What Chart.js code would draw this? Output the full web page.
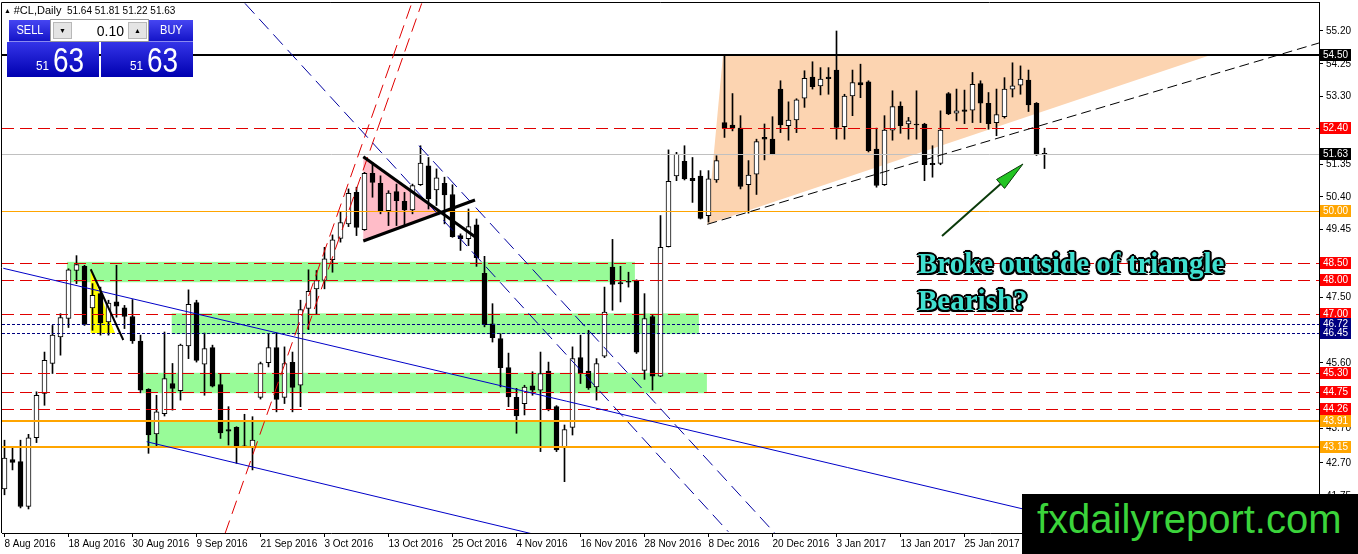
<!DOCTYPE html>
<html>
<head>
<meta charset="utf-8">
<title>#CL Daily</title>
<script src="https://cdn.jsdelivr.net/npm/chart.js@4.4.1/dist/chart.umd.min.js"></script>
<style>
html, body { margin: 0; padding: 0; background: #fff; }
#wrap { position: relative; width: 1358px; height: 554px; overflow: hidden; font-family: "Liberation Sans", Arial, sans-serif; }
#c { position: absolute; left: 0; top: 0; }
#hdr { position: absolute; left: 4px; top: 4px; font-size: 10px; color: #000; white-space: nowrap; line-height: 12px; }
#hdr .tri { font-size: 7px; vertical-align: 1px; }
#hdr .sym { font-size: 11px; }
.btn { position: absolute; color: #fff; font-size: 13px; text-align: center; line-height: 20px;
       background: linear-gradient(#4646f2, #1414c8); border-bottom: 1px solid #8a8af0; box-sizing: border-box; }
.btn span { display: inline-block; transform: scaleX(.85); }
.lot { position: absolute; background: #fff; border: 1px solid #9a9a9a; box-sizing: border-box; }
.lot .arr { position: absolute; top: 2px; width: 19px; height: 17px; background: #e4e4e4; border: 1px solid #b8b8b8;
            box-sizing: border-box; font-size: 7px; line-height: 15px; text-align: center; color: #000; }
.lot .val { position: absolute; right: 24px; top: 2px; font-size: 14px; line-height: 18px; color: #000; }
.px { position: absolute; background: linear-gradient(#3434e8, #0000b0); color: #fff; }
.px .s { position: absolute; left: 29px; top: 17px; font-size: 13px; line-height: 14px; display: inline-block; transform: scaleX(.9); transform-origin: left; }
.px .b { position: absolute; left: 46px; top: 0px; font-size: 35px; line-height: 36px; display: inline-block; transform: scaleX(.8); transform-origin: left; }
#note { position: absolute; left: 918px; top: 245px; font-family: "Liberation Serif", "Times New Roman", serif; font-weight: bold;
        font-size: 29px; line-height: 37px; color: #40e0d0; white-space: nowrap;
        text-shadow: -2px 0 #000, 2px 0 #000, 0 -2px #000, 0 2px #000, -1.5px -1.5px #000, 1.5px 1.5px #000, -1.5px 1.5px #000, 1.5px -1.5px #000, 0 0 3px #000; }
#brand { position: absolute; left: 1022px; top: 494px; width: 336px; height: 60px; background: #000; }
#brand span { position: absolute; left: 15px; top: 5px; font-size: 40px; line-height: 40px; color: #3bd43b; white-space: nowrap; }
</style>
</head>
<body>
<div id="wrap">
  <canvas id="c" width="1358" height="554"></canvas>
  <div id="hdr"><span class="tri">&#9650;</span> <span class="sym">#CL,Daily</span>&nbsp; 51.64 51.81 51.22 51.63</div>
  <div class="btn" style="left:9px;top:20px;width:41px;height:22px"><span>SELL</span></div>
  <div class="lot" style="left:50px;top:19px;width:99px;height:23px">
    <div class="arr" style="left:2px">&#9660;</div>
    <div class="val">0.10</div>
    <div class="arr" style="left:77px">&#9650;</div>
  </div>
  <div class="btn" style="left:149px;top:20px;width:44px;height:22px"><span>BUY</span></div>
  <div class="px" style="left:7px;top:42px;width:92px;height:35px"><span class="s">51</span><span class="b">63</span></div>
  <div class="px" style="left:101px;top:42px;width:92px;height:35px"><span class="s">51</span><span class="b">63</span></div>
  <div id="note">Broke outside of triangle<br>Bearish?</div>
  <div id="brand"><span>fxdailyreport.com</span></div>
</div>
<script>
// Daily candles, one per trading day from 8 Aug 2016
const opens = [
    41.95, 42.80, 42.74, 41.44, 43.43, 44.71, 45.58, 46.35, 46.88, 48.27,
    48.39, 47.19, 47.60, 46.78, 47.36, 47.19, 46.94, 46.23, 44.83, 43.54,
    44.13, 45.00, 44.79, 46.09, 47.34, 45.56, 46.04, 44.97, 43.67, 43.73,
    43.19, 43.17, 44.60, 45.60, 46.04, 44.60, 45.61, 44.95, 47.17, 47.74,
    47.98, 48.58, 49.20, 49.62, 50.53, 49.45, 51.08, 50.79, 50.00, 50.55,
    50.27, 50.02, 50.75, 51.30, 50.60, 50.79, 50.47, 49.28, 49.19, 49.59,
    48.19, 46.73, 46.30, 45.46, 44.60, 44.42, 44.93, 44.81, 45.36, 44.33,
    43.17, 43.73, 45.75, 45.36, 44.90, 45.79, 48.37, 47.92, 47.95, 47.98,
    45.38, 46.94, 45.21, 48.96, 51.01, 51.43, 50.94, 51.00, 49.86, 50.89,
    52.55, 52.48, 52.39, 50.75, 51.06, 52.12, 52.07, 53.52, 52.46, 52.63,
    53.26, 53.87, 53.61, 53.87, 54.07, 52.43, 53.32, 53.71, 53.73, 51.78,
    50.75, 52.33, 53.03, 52.51, 52.50, 52.51, 51.37, 51.37, 53.39, 52.82,
    52.92, 52.91, 53.68, 53.11, 52.55, 52.72, 53.52, 53.63, 53.78, 53.11,
    51.64
];
const highs = [
    43.36, 43.17, 43.36, 43.53, 44.76, 45.91, 46.68, 47.02, 48.32, 48.70,
    48.42, 47.89, 47.79, 47.41, 48.42, 47.26, 47.43, 46.40, 44.85, 44.66,
    46.49, 45.58, 46.14, 47.71, 47.41, 46.46, 46.11, 45.29, 44.33, 43.75,
    44.11, 44.04, 45.62, 46.44, 46.46, 46.06, 45.91, 47.41, 48.29, 48.27,
    48.94, 49.30, 49.96, 50.63, 50.68, 51.11, 51.40, 51.01, 50.58, 50.77,
    50.53, 50.77, 51.88, 51.54, 51.21, 50.97, 50.75, 49.33, 50.05, 49.76,
    48.68, 47.31, 46.44, 45.88, 44.86, 44.95, 45.34, 45.91, 45.62, 44.36,
    43.80, 46.06, 46.40, 46.54, 45.72, 47.79, 49.17, 48.39, 48.22, 48.00,
    47.60, 47.00, 49.86, 51.76, 51.69, 51.88, 51.54, 51.16, 51.16, 51.59,
    54.48, 53.39, 52.75, 51.45, 52.07, 52.51, 52.72, 53.76, 53.15, 53.24,
    54.05, 54.31, 54.14, 54.14, 55.20, 53.37, 54.07, 54.24, 53.76, 52.39,
    52.75, 53.47, 53.15, 52.70, 53.47, 52.53, 51.88, 52.89, 53.42, 53.52,
    53.49, 54.00, 53.76, 53.42, 53.52, 53.85, 54.28, 54.19, 54.07, 53.13,
    51.81
];
const lows = [
    41.78, 42.50, 41.40, 41.37, 43.29, 44.37, 45.29, 45.82, 46.62, 47.89,
    46.68, 46.54, 46.40, 46.40, 46.92, 46.59, 46.16, 44.73, 42.98, 43.17,
    44.06, 44.23, 44.52, 45.72, 45.62, 44.66, 44.90, 43.41, 43.22, 42.69,
    43.15, 42.50, 44.55, 45.48, 44.18, 44.42, 44.18, 44.33, 46.56, 47.02,
    47.74, 48.22, 49.09, 49.54, 49.28, 49.43, 50.39, 49.91, 49.57, 49.57,
    49.57, 49.91, 50.73, 50.05, 50.15, 49.62, 49.23, 48.85, 48.99, 48.39,
    46.64, 46.20, 44.90, 44.33, 43.56, 44.09, 44.66, 43.03, 44.21, 43.03,
    42.16, 43.51, 45.00, 44.83, 44.52, 45.75, 47.12, 47.36, 47.79, 45.87,
    45.12, 44.81, 45.20, 48.95, 50.87, 50.89, 50.24, 49.76, 49.67, 50.82,
    52.12, 52.31, 50.63, 49.93, 50.47, 51.47, 51.62, 52.26, 52.04, 52.26,
    52.99, 53.52, 53.35, 53.37, 52.07, 52.07, 52.75, 53.27, 51.70, 50.68,
    50.73, 52.04, 52.24, 52.07, 52.07, 50.87, 50.97, 51.33, 52.78, 52.60,
    52.52, 52.55, 52.55, 52.36, 52.17, 52.68, 53.29, 53.37, 52.87, 51.60,
    51.22
];
const closes = [
    42.84, 42.72, 41.44, 43.43, 44.66, 45.67, 46.40, 46.91, 48.29, 48.44,
    46.71, 47.55, 46.75, 47.33, 47.24, 46.94, 46.23, 44.81, 43.51, 44.18,
    45.14, 44.86, 46.11, 47.29, 45.67, 46.01, 44.92, 43.57, 43.62, 43.17,
    43.17, 43.36, 45.58, 46.04, 44.54, 45.58, 44.89, 47.14, 47.67, 47.98,
    48.61, 49.16, 49.66, 50.50, 49.52, 51.08, 50.82, 50.00, 50.51, 50.29,
    50.02, 50.73, 51.38, 50.34, 50.95, 50.46, 49.25, 49.19, 49.54, 48.64,
    46.70, 46.33, 45.46, 44.61, 44.06, 44.90, 44.81, 45.29, 44.25, 43.08,
    43.67, 45.72, 45.31, 44.87, 45.58, 47.07, 47.87, 47.88, 47.93, 45.91,
    46.88, 45.21, 48.94, 50.85, 51.64, 50.92, 50.87, 49.78, 50.92, 51.45,
    52.39, 52.39, 50.70, 51.03, 52.00, 52.07, 51.64, 52.48, 52.62, 53.21,
    53.83, 53.59, 53.81, 53.82, 52.41, 53.32, 53.71, 53.64, 51.74, 50.73,
    52.33, 53.01, 52.46, 52.60, 52.48, 51.33, 51.33, 52.33, 52.80, 52.89,
    52.87, 53.66, 53.11, 52.52, 52.78, 53.52, 53.61, 53.81, 53.06, 51.62,
    51.63
];

// Time axis labels (one every 8 bars)
const dateTicks = ['8 Aug 2016', '18 Aug 2016', '30 Aug 2016', '9 Sep 2016', '21 Sep 2016', '3 Oct 2016',
    '13 Oct 2016', '25 Oct 2016', '4 Nov 2016', '16 Nov 2016', '28 Nov 2016', '8 Dec 2016',
    '20 Dec 2016', '3 Jan 2017', '13 Jan 2017', '25 Jan 2017'];
const dateTickBars = [0, 8, 16, 24, 32, 40, 48, 56, 64, 72, 80, 88, 96, 104, 112, 120];

// Price axis labels
const priceTicks = [55.20, 54.25, 53.30, 52.35, 51.35, 50.40, 49.45, 48.50, 47.50, 46.55, 45.60, 44.65, 43.70, 42.70, 41.75];

// Horizontal levels drawn on the chart
const levelPrices = [54.50, 52.40, 51.63, 50.00, 48.50, 48.00, 47.00, 46.72, 46.45, 45.30, 44.75, 44.26, 43.91, 43.15];
const levelKinds = ['res', 'red', 'bid', 'orange', 'red', 'red', 'red', 'navy', 'navy', 'red', 'red', 'red', 'orangeB', 'orangeB'];

// Rectangles: [fromBar, toBar, topPrice, bottomPrice]
const zones = [
    [7.8, 78.8, 48.52, 47.93],
    [20.9, 86.8, 47.03, 46.43],
    [17.2, 87.8, 45.31, 44.72],
    [17.8, 68.8, 43.92, 43.14]
];

// Filled triangles: [bar, price] corners
const peachTri = [[89.81, 54.50], [150.69, 54.50], [87.85, 49.607]];
const pinkTri = [[44.85, 51.563], [44.85, 49.124], [54.44, 49.943]];
const yellowTri = [[10.775, 48.305], [10.775, 46.453], [13.81, 46.453]];

// Trend lines: [bar1, price1, bar2, price2]
const trendLines = [
    [27.56, 40.654, 50.90, 55.999],
    [37.85, 46.580, 52.15, 55.999],
    [30.06, 55.999, 90.475, 40.712],
    [51.81, 51.88, 96.31, 40.666],
    [-0.15, 48.334, 164.3, 39.35],
    [17.775, 43.316, 164.31, 35.21],
    [87.85, 49.607, 164.31, 54.853],
    [10.775, 48.305, 14.85, 46.259],
    [44.85, 51.563, 58.81, 49.248],
    [44.85, 49.124, 58.81, 50.310]
];
const trendKinds = ['redDash', 'redDash', 'blueDash', 'blueDash', 'blue', 'blue', 'blackDash', 'black2', 'black3', 'black3'];

// Arrow: [bar1, price1, tipBar, tipPrice]
const arrowPts = [117.19, 49.268, 127.31, 51.352];

const LEVEL_STYLE = {
    res:     { color: '#000000', width: 2, dash: [],     box: '#000000' },
    red:     { color: '#e00000', width: 1, dash: [12, 6], box: '#ff0000' },
    bid:     { color: '#c0c0c0', width: 1, dash: [],     box: '#000000' },
    orange:  { color: '#ffa500', width: 1, dash: [],     box: '#ffa500' },
    orangeB: { color: '#ffa500', width: 2, dash: [],     box: '#ffa500' },
    navy:    { color: '#000080', width: 1, dash: [3, 2],  box: '#000080' }
};
const TREND_STYLE = {
    redDash:   { color: '#e00000', width: 1, dash: [14, 7] },
    blueDash:  { color: '#0000a0', width: 1, dash: [14, 7] },
    blue:      { color: '#0000c8', width: 1, dash: [] },
    blackDash: { color: '#000000', width: 1, dash: [10, 5] },
    black2:    { color: '#000000', width: 2, dash: [] },
    black3:    { color: '#000000', width: 3, dash: [] }
};

const FONT = '"Liberation Sans", Arial, sans-serif';

// Draw MT4 style objects through the chart scales
const objectsPlugin = {
    id: 'mt4objects',
    beforeDatasetsDraw(chart) {
        const { ctx, chartArea: a, scales: { x, y } } = chart;
        const px = v => x.getPixelForValue(v);
        const py = v => y.getPixelForValue(v);
        ctx.save();
        ctx.beginPath();
        ctx.rect(a.left, a.top, a.right - a.left, a.bottom - a.top);
        ctx.clip();

        ctx.fillStyle = '#98fb98';
        for (const z of zones) {
            ctx.fillRect(px(z[0]), py(z[2]), px(z[1]) - px(z[0]), py(z[3]) - py(z[2]));
        }
        const fillPoly = (pts, color) => {
            ctx.beginPath();
            pts.forEach((p, i) => i ? ctx.lineTo(px(p[0]), py(p[1])) : ctx.moveTo(px(p[0]), py(p[1])));
            ctx.closePath();
            ctx.fillStyle = color;
            ctx.fill();
        };
        fillPoly(peachTri, '#fcd4b1');
        fillPoly(pinkTri, '#ffbcc8');
        fillPoly(yellowTri, '#ffff00');
        ctx.restore();
    },
    afterDatasetsDraw(chart) {
        const { ctx, chartArea: a, scales: { x, y } } = chart;
        const px = v => x.getPixelForValue(v);
        const py = v => y.getPixelForValue(v);
        ctx.save();
        ctx.beginPath();
        ctx.rect(a.left, a.top, a.right - a.left, a.bottom - a.top);
        ctx.clip();

        // horizontal levels
        levelPrices.forEach((p, i) => {
            const st = LEVEL_STYLE[levelKinds[i]];
            let yy = py(p);
            if (st.width === 1) yy = Math.round(yy) + 0.5;
            else yy = Math.round(yy);
            ctx.beginPath();
            ctx.setLineDash(st.dash);
            ctx.strokeStyle = st.color;
            ctx.lineWidth = st.width;
            ctx.moveTo(a.left, yy);
            ctx.lineTo(a.right, yy);
            ctx.stroke();
        });

        // trend lines
        trendLines.forEach((l, i) => {
            const st = TREND_STYLE[trendKinds[i]];
            ctx.beginPath();
            ctx.setLineDash(st.dash);
            ctx.strokeStyle = st.color;
            ctx.lineWidth = st.width;
            ctx.moveTo(px(l[0]), py(l[1]));
            ctx.lineTo(px(l[2]), py(l[3]));
            ctx.stroke();
        });

        // arrow
        ctx.setLineDash([]);
        const sx = px(arrowPts[0]), sy = py(arrowPts[1]);
        const tx = px(arrowPts[2]), ty = py(arrowPts[3]);
        const ang = Math.atan2(ty - sy, tx - sx);
        const hl = 30, hw = 6;
        const bx = tx - hl * Math.cos(ang), by = ty - hl * Math.sin(ang);
        ctx.beginPath();
        ctx.strokeStyle = '#0a3a0a';
        ctx.lineWidth = 2;
        ctx.moveTo(sx, sy);
        ctx.lineTo(bx, by);
        ctx.stroke();
        ctx.beginPath();
        ctx.moveTo(tx, ty);
        ctx.lineTo(bx + hw * Math.sin(ang), by - hw * Math.cos(ang));
        ctx.lineTo(bx - hw * Math.sin(ang), by + hw * Math.cos(ang));
        ctx.closePath();
        ctx.fillStyle = '#22c422';
        ctx.fill();
        ctx.lineWidth = 1;
        ctx.strokeStyle = '#0a3a0a';
        ctx.stroke();
        ctx.restore();
    },
    afterDraw(chart) {
        const { ctx, chartArea: a, scales: { y } } = chart;
        ctx.save();
        // frame
        ctx.strokeStyle = '#000';
        ctx.lineWidth = 1;
        ctx.beginPath();
        ctx.moveTo(a.left - 0.5, a.bottom);
        ctx.lineTo(a.left - 0.5, a.top + 0.5);
        ctx.lineTo(a.right, a.top + 0.5);
        ctx.stroke();
        // price labels on the axis
        ctx.font = '10px ' + FONT;
        ctx.textBaseline = 'middle';
        levelPrices.forEach((p, i) => {
            const st = LEVEL_STYLE[levelKinds[i]];
            const yy = Math.round(y.getPixelForValue(p));
            ctx.fillStyle = st.box;
            ctx.fillRect(a.right + 1, yy - 6, 31, 12);
            ctx.fillStyle = '#ffffff';
            ctx.fillText(p.toFixed(2), a.right + 4, yy + 0.5);
        });
        ctx.restore();
    }
};

const bars = opens.map((o, i) => i);
const wickData = bars.map(i => ({ x: i, y: [lows[i], highs[i]] }));
const bodyData = bars.map(i => ({ x: i, y: [Math.min(opens[i], closes[i]), Math.max(opens[i], closes[i])] }));
const bodyColors = bars.map(i => closes[i] >= opens[i] ? '#ffffff' : '#000000');

// 8 px per bar, first bar centred at x = 4.5
const X_MIN = -0.3125, X_MAX = 164.3125;
const Y_MAX = 56.0391, Y_MIN = 40.6745;

const ctx = document.getElementById('c').getContext('2d');
new Chart(ctx, {
    type: 'bar',
    data: {
        datasets: [
            {
                label: 'wick',
                data: wickData,
                backgroundColor: '#000000',
                borderWidth: 0,
                barThickness: 1,
                grouped: false,
                minBarLength: 1,
                order: 1
            },
            {
                label: 'body',
                data: bodyData,
                backgroundColor: bodyColors,
                borderColor: '#000000',
                borderWidth: 1,
                borderSkipped: false,
                barThickness: 5,
                grouped: false,
                minBarLength: 1,
                order: 0
            }
        ]
    },
    options: {
        responsive: false,
        animation: false,
        devicePixelRatio: 1,
        events: [],
        layout: { padding: { left: 2, top: 2, right: 0, bottom: 0 } },
        plugins: { legend: { display: false }, tooltip: { enabled: false } },
        scales: {
            x: {
                type: 'linear',
                min: X_MIN,
                max: X_MAX,
                offset: false,
                afterBuildTicks: s => { s.ticks = dateTickBars.map(v => ({ value: v })); },
                afterFit: s => { s.height = 21; s.paddingLeft = 0; s.paddingRight = 0; },
                grid: { drawOnChartArea: false, offset: false, color: '#000', tickLength: 4 },
                border: { color: '#000' },
                ticks: {
                    autoSkip: false,
                    maxRotation: 0,
                    align: 'start',
                    padding: 1,
                    color: '#000',
                    font: { family: FONT, size: 10 },
                    callback: (v, i) => dateTicks[i]
                }
            },
            y: {
                type: 'linear',
                position: 'right',
                min: Y_MIN,
                max: Y_MAX,
                afterBuildTicks: s => { s.ticks = priceTicks.map(v => ({ value: v })); },
                afterFit: s => { s.width = 39; s.paddingTop = 0; s.paddingBottom = 0; },
                grid: { drawOnChartArea: false, color: '#000', tickLength: 4 },
                border: { color: '#000' },
                ticks: {
                    padding: 3,
                    color: '#000',
                    font: { family: FONT, size: 10 },
                    callback: v => v.toFixed(2)
                }
            }
        }
    },
    plugins: [objectsPlugin]
});
</script>
</body>
</html>
